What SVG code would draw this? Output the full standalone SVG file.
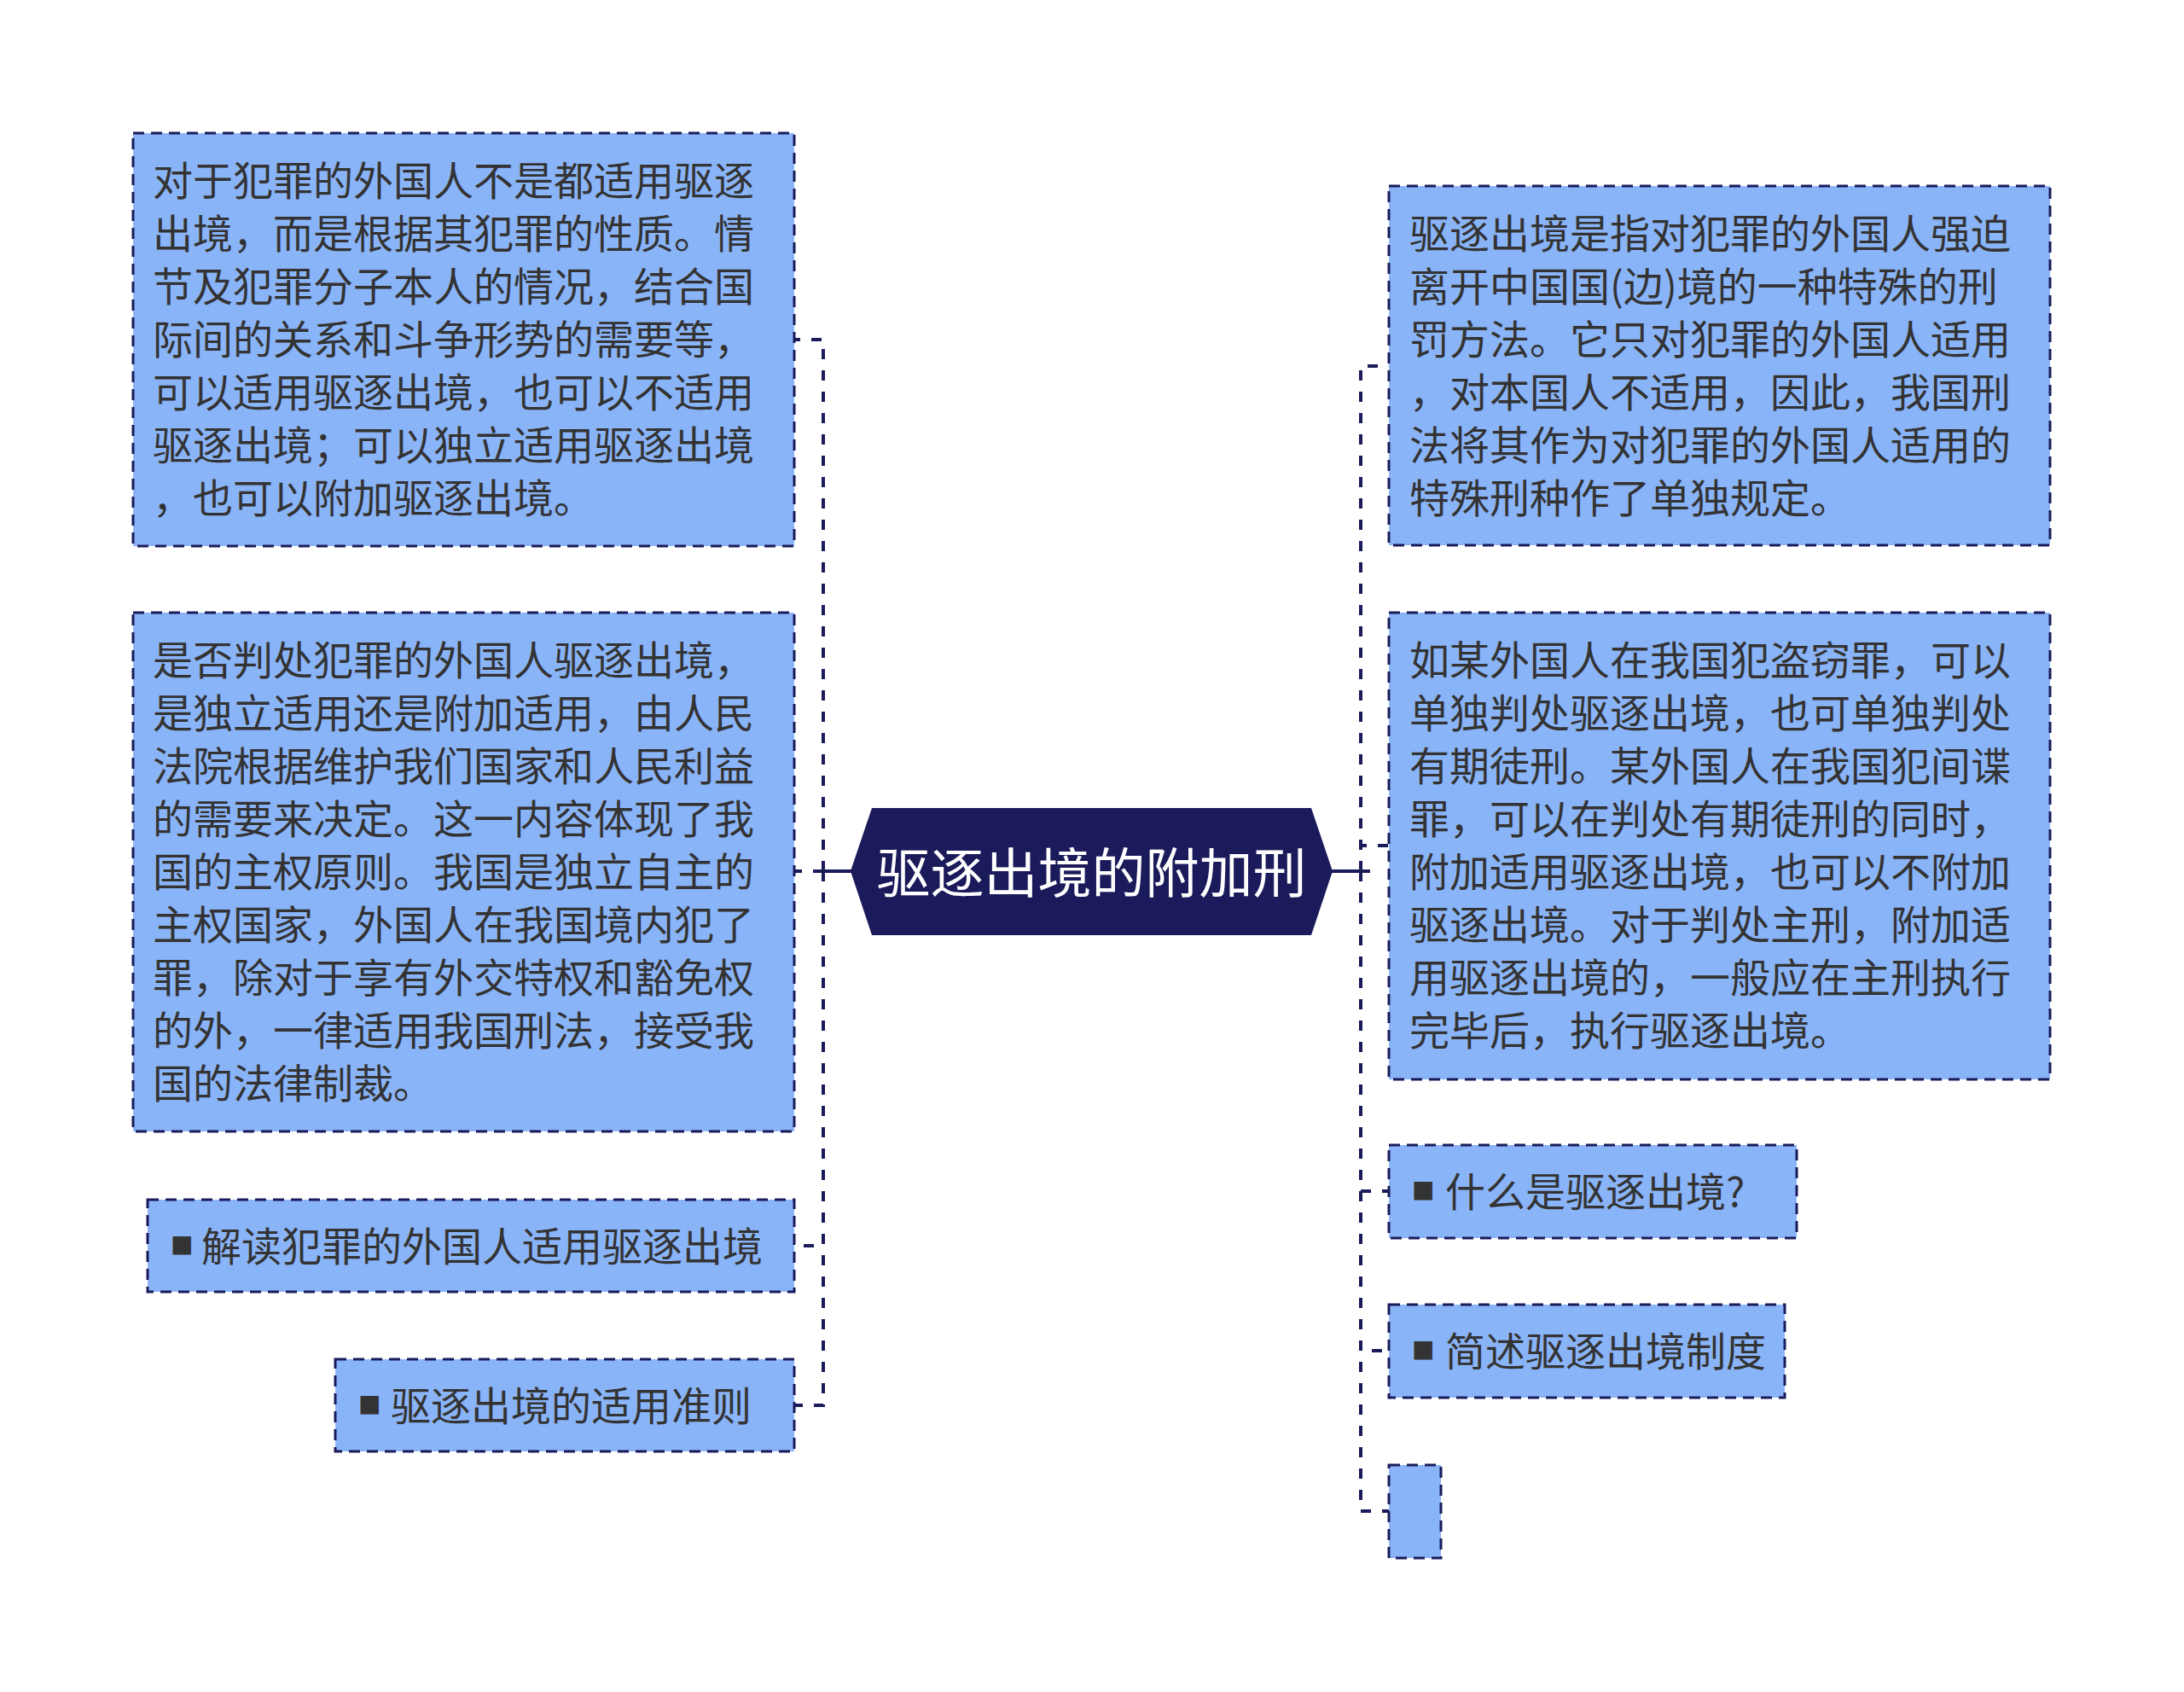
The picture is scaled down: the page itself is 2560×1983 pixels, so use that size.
<svg xmlns="http://www.w3.org/2000/svg" width="2560" height="1983" viewBox="0 0 2560 1983">
<style>
.box{fill:#8ab4f8;stroke:#1b1b5b;stroke-width:3;stroke-dasharray:13 8;}
.t{font-family:"Noto Sans CJK SC","Noto Sans",sans-serif;font-size:47px;fill:#333333;dominant-baseline:central;}
.b{font-family:"DejaVu Sans",sans-serif;font-size:28px;fill:#333333;}
.dash{fill:none;stroke:#1b1b5b;stroke-width:4;stroke-dasharray:12 13;}
.solid{fill:none;stroke:#1b1b5b;stroke-width:4;}
.ct{font-family:"Noto Sans CJK SC","Noto Sans",sans-serif;font-size:63px;fill:#ffffff;dominant-baseline:central;text-anchor:middle;}
</style>
<rect width="2560" height="1983" fill="#ffffff"/>
<g id="connectors">
<path class="dash" d="M965,1021 V398 H931"/>
<path class="dash" d="M965,1021 H931"/>
<path class="dash" d="M965,1021 V1460 H931"/>
<path class="dash" d="M965,1021 V1647 H931"/>
<path class="dash" d="M1595,1021 V429 H1628"/>
<path class="dash" d="M1595,1021 V991 H1628"/>
<path class="dash" d="M1595,1021 V1396 H1628"/>
<path class="dash" d="M1595,1021 V1583 H1628"/>
<path class="dash" d="M1595,1021 V1771 H1628"/>
<path class="solid" d="M953,1021 H998"/>
<path class="solid" d="M1561,1021 H1606"/>
</g>
<g id="center">
<polygon points="997,1021 1022,947 1537,947 1562,1021 1537,1096 1022,1096" fill="#1b1b5b"/>
<text class="ct" x="1279.5" y="1018">驱逐出境的附加刑</text>
</g>
<g id="left1">
<rect class="box" x="156" y="156" width="775" height="484"/>
<text class="t" x="179" y="208"><tspan x="179" y="208">对于犯罪的外国人不是都适用驱逐</tspan><tspan x="179" y="270">出境，而是根据其犯罪的性质。情</tspan><tspan x="179" y="332">节及犯罪分子本人的情况，结合国</tspan><tspan x="179" y="394">际间的关系和斗争形势的需要等，</tspan><tspan x="179" y="456">可以适用驱逐出境，也可以不适用</tspan><tspan x="179" y="518">驱逐出境；可以独立适用驱逐出境</tspan><tspan x="179" y="580">，也可以附加驱逐出境。</tspan></text>
</g>
<g id="left2">
<rect class="box" x="156" y="718" width="775" height="608"/>
<text class="t" x="179" y="770"><tspan x="179" y="770">是否判处犯罪的外国人驱逐出境，</tspan><tspan x="179" y="832">是独立适用还是附加适用，由人民</tspan><tspan x="179" y="894">法院根据维护我们国家和人民利益</tspan><tspan x="179" y="956">的需要来决定。这一内容体现了我</tspan><tspan x="179" y="1018">国的主权原则。我国是独立自主的</tspan><tspan x="179" y="1080">主权国家，外国人在我国境内犯了</tspan><tspan x="179" y="1142">罪，除对于享有外交特权和豁免权</tspan><tspan x="179" y="1204">的外，一律适用我国刑法，接受我</tspan><tspan x="179" y="1266">国的法律制裁。</tspan></text>
</g>
<g id="left3">
<rect class="box" x="173" y="1406" width="758" height="108"/>
<text class="t" x="200" y="1457"><tspan class="b">■</tspan><tspan x="236">解读犯罪的外国人适用驱逐出境</tspan></text>
</g>
<g id="left4">
<rect class="box" x="393" y="1593" width="538" height="108"/>
<text class="t" x="420" y="1644"><tspan class="b">■</tspan><tspan x="458">驱逐出境的适用准则</tspan></text>
</g>
<g id="right1">
<rect class="box" x="1628" y="218" width="775" height="421"/>
<text class="t" x="1652" y="270"><tspan x="1652" y="270">驱逐出境是指对犯罪的外国人强迫</tspan><tspan x="1652" y="332">离开中国国(边)境的一种特殊的刑</tspan><tspan x="1652" y="394">罚方法。它只对犯罪的外国人适用</tspan><tspan x="1652" y="456">，对本国人不适用，因此，我国刑</tspan><tspan x="1652" y="518">法将其作为对犯罪的外国人适用的</tspan><tspan x="1652" y="580">特殊刑种作了单独规定。</tspan></text>
</g>
<g id="right2">
<rect class="box" x="1628" y="718" width="775" height="547"/>
<text class="t" x="1652" y="770"><tspan x="1652" y="770">如某外国人在我国犯盗窃罪，可以</tspan><tspan x="1652" y="832">单独判处驱逐出境，也可单独判处</tspan><tspan x="1652" y="894">有期徒刑。某外国人在我国犯间谍</tspan><tspan x="1652" y="956">罪，可以在判处有期徒刑的同时，</tspan><tspan x="1652" y="1018">附加适用驱逐出境，也可以不附加</tspan><tspan x="1652" y="1080">驱逐出境。对于判处主刑，附加适</tspan><tspan x="1652" y="1142">用驱逐出境的，一般应在主刑执行</tspan><tspan x="1652" y="1204">完毕后，执行驱逐出境。</tspan></text>
</g>
<g id="right3">
<rect class="box" x="1628" y="1342" width="478" height="109"/>
<text class="t" x="1655" y="1393"><tspan class="b">■</tspan><tspan x="1694">什么是驱逐出境?</tspan></text>
</g>
<g id="right4">
<rect class="box" x="1628" y="1529" width="464" height="109"/>
<text class="t" x="1655" y="1580"><tspan class="b">■</tspan><tspan x="1694">简述驱逐出境制度</tspan></text>
</g>
<g id="right5">
<rect class="box" x="1628" y="1717" width="61" height="109"/>
</g>
</svg>
